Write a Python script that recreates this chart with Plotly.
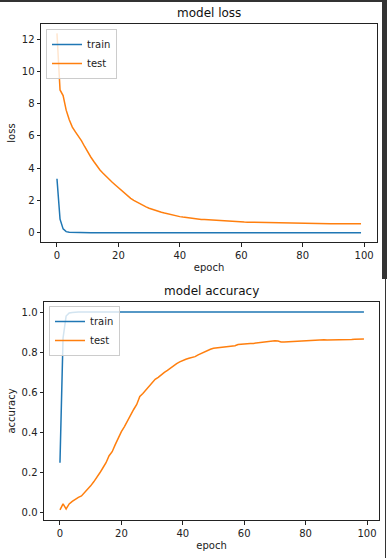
import plotly.graph_objects as go

epochs = list(range(100))

loss_train = [3.35, 0.85, 0.25, 0.08, 0.045, 0.035, 0.03, 0.026, 0.023, 0.021,
              0.019, 0.018, 0.017, 0.016, 0.015, 0.014, 0.014, 0.013, 0.013, 0.012,
              0.012, 0.011, 0.011, 0.011, 0.010, 0.010, 0.010, 0.010, 0.009, 0.009,
              0.009, 0.009, 0.009, 0.008, 0.008, 0.008, 0.008, 0.008, 0.008, 0.008,
              0.007, 0.007, 0.007, 0.007, 0.007, 0.007, 0.007, 0.007, 0.007, 0.007,
              0.006, 0.006, 0.006, 0.006, 0.006, 0.006, 0.006, 0.006, 0.006, 0.006,
              0.006, 0.006, 0.006, 0.006, 0.006, 0.005, 0.005, 0.005, 0.005, 0.005,
              0.005, 0.005, 0.005, 0.005, 0.005, 0.005, 0.005, 0.005, 0.005, 0.005,
              0.005, 0.005, 0.005, 0.005, 0.005, 0.005, 0.005, 0.005, 0.005, 0.005,
              0.005, 0.005, 0.005, 0.005, 0.005, 0.005, 0.005, 0.005, 0.005, 0.005]

loss_test = [12.35, 8.85, 8.5, 7.6, 7.0, 6.55, 6.25, 6.0, 5.7, 5.35,
             5.0, 4.7, 4.42, 4.15, 3.9, 3.7, 3.5, 3.32, 3.14, 2.97,
             2.8, 2.62, 2.46, 2.3, 2.14, 2.01, 1.9, 1.8, 1.7, 1.61,
             1.53, 1.46, 1.39, 1.33, 1.28, 1.23, 1.18, 1.14, 1.1, 1.05,
             1.01, 0.98, 0.95, 0.92, 0.9, 0.88, 0.86, 0.84, 0.825, 0.81,
             0.795, 0.78, 0.77, 0.76, 0.75, 0.735, 0.72, 0.71, 0.70, 0.69,
             0.68, 0.67, 0.665, 0.66, 0.655, 0.65, 0.645, 0.64, 0.635, 0.63,
             0.625, 0.62, 0.615, 0.61, 0.607, 0.604, 0.601, 0.598, 0.595, 0.592,
             0.59, 0.588, 0.586, 0.584, 0.582, 0.58, 0.579, 0.578, 0.577, 0.576,
             0.575, 0.574, 0.573, 0.572, 0.572, 0.571, 0.571, 0.570, 0.570, 0.570]

acc_train = [0.25, 0.87, 0.98, 0.995, 0.998, 1.0, 1.0, 1.0, 1.0, 1.0] + [1.0] * 90

acc_test = [0.015, 0.045, 0.02, 0.045, 0.058, 0.07, 0.078, 0.085, 0.1, 0.115,
            0.135, 0.155, 0.175, 0.2, 0.225, 0.25, 0.285, 0.305, 0.34, 0.375,
            0.405, 0.43, 0.46, 0.49, 0.515, 0.54, 0.58, 0.595, 0.612, 0.63,
            0.65, 0.665, 0.675, 0.69, 0.7, 0.71, 0.722, 0.735, 0.743, 0.752,
            0.76, 0.765, 0.77, 0.773, 0.778, 0.787, 0.795, 0.803, 0.81, 0.815,
            0.82, 0.822, 0.824, 0.825, 0.827, 0.828, 0.83, 0.832, 0.838, 0.84,
            0.841, 0.842, 0.843, 0.844, 0.846, 0.847, 0.849, 0.851, 0.853, 0.855,
            0.857, 0.856, 0.851, 0.851, 0.852, 0.853, 0.853, 0.854, 0.855, 0.855,
            0.856, 0.857, 0.858, 0.859, 0.86, 0.862, 0.862, 0.861, 0.861, 0.861,
            0.86, 0.861, 0.86, 0.861, 0.862, 0.863, 0.864, 0.865, 0.866, 0.866]

loss_yticks = [0, 2, 4, 6, 8, 10, 12]
acc_yticks = [0.0, 0.2, 0.4, 0.6, 0.8, 1.0]
acc_yticklabels = ["0.0", "0.2", "0.4", "0.6", "0.8", "1.0"]
xticks = [0, 20, 40, 60, 80, 100]

BLUE = "#1f77b4"
ORANGE = "#ff7f0e"
FONT = "DejaVu Sans"
W, H = 387, 558

fig = go.Figure()
fig.add_trace(go.Scatter(x=epochs, y=loss_train, mode="lines", name="train",
                         line=dict(color=BLUE, width=1.5), xaxis="x", yaxis="y", legend="legend"))
fig.add_trace(go.Scatter(x=epochs, y=loss_test, mode="lines", name="test",
                         line=dict(color=ORANGE, width=1.5), xaxis="x", yaxis="y", legend="legend"))
fig.add_trace(go.Scatter(x=epochs, y=acc_train, mode="lines", name="train",
                         line=dict(color=BLUE, width=1.5), xaxis="x2", yaxis="y2", legend="legend2"))
fig.add_trace(go.Scatter(x=epochs, y=acc_test, mode="lines", name="test",
                         line=dict(color=ORANGE, width=1.5), xaxis="x2", yaxis="y2", legend="legend2"))

def px_x(p):
    return p / W

def px_y(p):
    return 1 - p / H

axis_common = dict(showline=True, linecolor="#222", linewidth=1, mirror=True,
                   ticks="outside", ticklen=3.5, tickwidth=0.8, tickcolor="#222",
                   showgrid=False, zeroline=False,
                   tickfont=dict(family=FONT, size=10, color="#222"),
                   title_font=dict(family=FONT, size=10, color="#222"))

fig.update_layout(
    width=W, height=H,
    margin=dict(l=0, r=0, t=0, b=0),
    paper_bgcolor="white", plot_bgcolor="white",
    font=dict(family=FONT, size=10, color="#222"),
    xaxis=dict(domain=[px_x(41), px_x(377)], range=[-5.2, 104.2], anchor="y",
               tickvals=xticks, title=dict(text="epoch", standoff=4), **axis_common),
    yaxis=dict(domain=[px_y(242), px_y(24)], range=[-0.56, 12.93], anchor="x",
               tickvals=loss_yticks, title=dict(text="loss", standoff=4), **axis_common),
    xaxis2=dict(domain=[px_x(44), px_x(379)], range=[-5.2, 103.9], anchor="y2",
                tickvals=xticks, title=dict(text="epoch", standoff=4), **axis_common),
    yaxis2=dict(domain=[px_y(520), px_y(302)], range=[-0.035, 1.05], anchor="x2",
                tickvals=acc_yticks, ticktext=acc_yticklabels,
                title=dict(text="accuracy", standoff=4), **axis_common),
    legend=dict(x=px_x(46), y=px_y(29), xanchor="left", yanchor="top",
                bgcolor="rgba(255,255,255,0.8)", bordercolor="#cccccc", borderwidth=1,
                font=dict(family=FONT, size=10, color="#222"),
                itemwidth=30, tracegroupgap=0),
    legend2=dict(x=px_x(49), y=px_y(306), xanchor="left", yanchor="top",
                 bgcolor="rgba(255,255,255,0.8)", bordercolor="#cccccc", borderwidth=1,
                 font=dict(family=FONT, size=10, color="#222"),
                 itemwidth=30, tracegroupgap=0),
    annotations=[
        dict(text="model loss", x=(px_x(41) + px_x(377)) / 2, y=px_y(24), xref="paper", yref="paper",
             xanchor="center", yanchor="bottom", yshift=2, showarrow=False,
             font=dict(family=FONT, size=12, color="#111")),
        dict(text="model accuracy", x=(px_x(44) + px_x(379)) / 2, y=px_y(302), xref="paper", yref="paper",
             xanchor="center", yanchor="bottom", yshift=2, showarrow=False,
             font=dict(family=FONT, size=12, color="#111")),
    ],
    shapes=[
        dict(type="rect", xref="paper", yref="paper", x0=0, x1=1, y0=px_y(2), y1=1,
             fillcolor="#333333", line=dict(width=0), layer="above"),
        dict(type="rect", xref="paper", yref="paper", x0=px_x(382), x1=1, y0=px_y(279), y1=1,
             fillcolor="#333333", line=dict(width=0), layer="above"),
        dict(type="line", xref="paper", yref="paper", x0=px_x(385.5), x1=px_x(385.5), y0=0, y1=px_y(279),
             line=dict(color="#333333", width=1), layer="above"),
    ],
    showlegend=True,
)

fig.write_html("out.html", config={"displayModeBar": False},
               post_script="document.body.style.margin='0';document.body.style.overflow='hidden';")
